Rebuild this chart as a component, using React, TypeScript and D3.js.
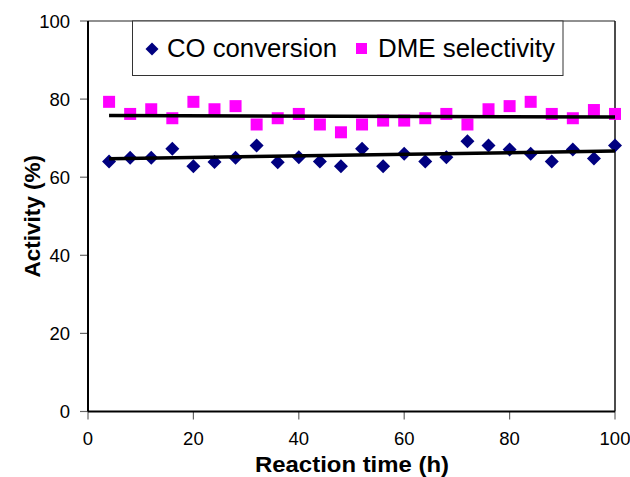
import React from "react";
import * as d3 from "d3";

const hours = [4, 8, 12, 16, 20, 24, 28, 32, 36, 40, 44, 48, 52, 56, 60, 64, 68, 72, 76, 80, 84, 88, 92, 96, 100];
const coConversion = [64, 65, 65, 67.3, 62.8, 63.9, 65, 68.1, 63.8, 65.1, 64, 62.8, 67.3, 62.8, 66, 64, 65.1, 69.2, 68.1, 67.1, 66, 64, 67.1, 64.8, 68.1];
const dmeSelectivity = [79.3, 76.2, 77.4, 75.1, 79.3, 77.4, 78.2, 73.5, 75.1, 76.2, 73.5, 71.5, 73.5, 74.5, 74.5, 75.1, 76.2, 73.5, 77.4, 78.2, 79.3, 76.2, 75.1, 77.2, 76.2];
const coTrend = [64.7, 66.7];
const dmeTrend = [75.8, 75.4];
const xTicks = [0, 20, 40, 60, 80, 100];
const yTicks = [0, 20, 40, 60, 80, 100];

const W = 630, H = 477;
const L = 88, R = 615, T = 21, B = 411.5;

export default function App() {
  const x = d3.scaleLinear().domain([0, 100]).range([L, R]);
  const y = d3.scaleLinear().domain([0, 100]).range([B, T]);
  const font = "'Liberation Sans', Arial, Helvetica, sans-serif";
  const diamond = (cx: number, cy: number, r: number) =>
    `M${cx},${cy - r}L${cx + r},${cy}L${cx},${cy + r}L${cx - r},${cy}Z`;
  const trendX = [hours[0], hours[hours.length - 1]];
  const line = d3.line<[number, number]>().x((d) => x(d[0])).y((d) => y(d[1]));
  return (
    <svg width={W} height={H} style={{ position: "absolute", left: 0, top: 0, background: "#fff" }} fontFamily={font}>
      <rect x={0} y={0} width={W} height={H} fill="#fff" />
      {yTicks.map((t) => (
        <g key={"y" + t}>
          <line x1={L - 8} x2={L} y1={y(t)} y2={y(t)} stroke="#666" strokeWidth={1.2} />
          <text x={70} y={y(t) + 6.5} fontSize={18.5} textAnchor="end" fill="#000">{t}</text>
        </g>
      ))}
      {xTicks.map((t) => (
        <g key={"x" + t}>
          <line x1={x(t)} x2={x(t)} y1={B} y2={B + 8} stroke="#666" strokeWidth={1.2} />
          <text x={x(t)} y={445} fontSize={18.5} textAnchor="middle" fill="#000">{t}</text>
        </g>
      ))}
      <line x1={L} x2={R} y1={T} y2={T} stroke="#222" strokeWidth={1.2} />
      <line x1={R} x2={R} y1={T} y2={B} stroke="#111" strokeWidth={1.5} />
      <line x1={L} x2={L} y1={T} y2={B} stroke="#000" strokeWidth={2} />
      <line x1={L} x2={R} y1={B} y2={B} stroke="#000" strokeWidth={2} />
      <rect x={132.5} y={T} width={430.5} height={54.5} fill="#fff" stroke="#333" strokeWidth={1} />
      <path d={diamond(152, 49, 6.5)} fill="#000080" />
      <text x={167} y={56.5} fontSize={25} textLength={170} lengthAdjust="spacingAndGlyphs" fill="#000">CO conversion</text>
      <rect x={356} y={43} width={11} height={11} fill="#ff00ff" />
      <text x={378} y={56.5} fontSize={25} textLength={177} lengthAdjust="spacingAndGlyphs" fill="#000">DME selectivity</text>
      {dmeSelectivity.map((v, i) => (
        <rect key={"d" + i} x={x(hours[i]) - 6} y={y(v) - 6} width={12} height={12} fill="#ff00ff" />
      ))}
      {coConversion.map((v, i) => (
        <path key={"c" + i} d={diamond(x(hours[i]), y(v), 7)} fill="#000080" />
      ))}
      <path d={line(trendX.map((h, i) => [h, dmeTrend[i]]) as any) || ""} stroke="#000" strokeWidth={3.5} fill="none" />
      <path d={line(trendX.map((h, i) => [h, coTrend[i]]) as any) || ""} stroke="#000" strokeWidth={3.5} fill="none" />
      <text x={352} y={472} fontSize={22.5} fontWeight="bold" textAnchor="middle" textLength={194} lengthAdjust="spacingAndGlyphs" fill="#000">Reaction time (h)</text>
      <text transform={`translate(40,${(T + B) / 2}) rotate(-90)`} fontSize={22.5} fontWeight="bold" textAnchor="middle" fill="#000">Activity (%)</text>
    </svg>
  );
}
